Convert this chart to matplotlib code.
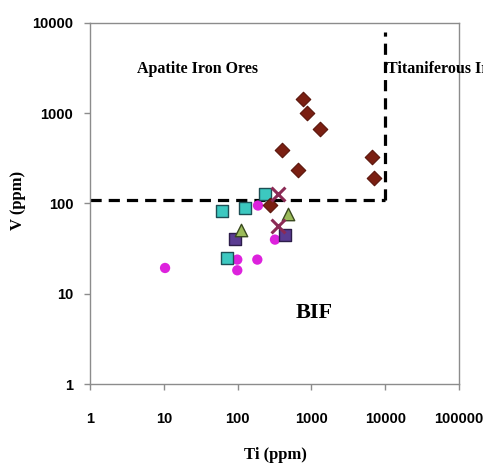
import matplotlib
matplotlib.use("Agg")
import matplotlib.pyplot as plt

# Data (Ti ppm, V ppm)
diamond_ti = [275, 769, 872, 1309, 400, 658, 6625, 7050]
diamond_v = [97, 1430, 1000, 664, 388, 233, 324, 190]

cyan_sq_ti = [61, 126, 235, 71]
cyan_sq_v = [82, 90, 129, 25]

purple_sq_ti = [92, 439]
purple_sq_v = [40, 45]

tri_ti = [110, 482]
tri_v = [51, 77]

x_ti = [353, 353]
x_v = [126, 56]

circ_ti = [10.4, 189, 99, 99, 185, 321]
circ_v = [19.3, 95, 23.9, 18.2, 23.9, 39.8]

# Field boundaries
boundary_v = 110
boundary_ti = 10000

x_ticks = [1, 10, 100, 1000, 10000, 100000]
y_ticks = [1, 10, 100, 1000, 10000]

serif = "Liberation Serif"
sans = "Liberation Sans"

fig = plt.figure(figsize=(4.83, 4.70), dpi=100)
ax = fig.add_axes([90/483, 1-384/470, (459-90)/483, (384-23)/470])
ax.set_xscale("log")
ax.set_yscale("log")
ax.set_xlim(1, 100000)
ax.set_ylim(1, 10000)

# boundary lines
ax.plot([1, boundary_ti], [boundary_v, boundary_v], color="black", lw=2.3,
        dashes=(3.5, 2.2), zorder=2)
ax.plot([boundary_ti, boundary_ti], [boundary_v, 8000], color="black", lw=2.3,
        dashes=(3.5, 2.2), zorder=2)

ax.scatter(circ_ti, circ_v, s=55, marker="o", color="#DD22DD", edgecolors="none", zorder=3)
ax.scatter(cyan_sq_ti, cyan_sq_v, s=65, marker="s", facecolor="#3CC8C0",
           edgecolors="#1d4f55", linewidths=1.0, zorder=4)
ax.scatter(purple_sq_ti, purple_sq_v, s=65, marker="s", facecolor="#5B3C92",
           edgecolors="#2d1d4a", linewidths=1.0, zorder=4)
ax.scatter(tri_ti, tri_v, s=80, marker="^", facecolor="#9BBB59",
           edgecolors="#3a4a20", linewidths=1.0, zorder=4)
ax.scatter(diamond_ti, diamond_v, s=55, marker="D", facecolor="#7A1F12",
           edgecolors="#5a150c", linewidths=0.8, zorder=5)
ax.scatter(x_ti, x_v, s=100, marker="x", color="#8B2A55", linewidths=2.2, zorder=6)

for sp in ax.spines.values():
    sp.set_color("#8c8c8c")
    sp.set_linewidth(1.0)

ax.set_xticks(x_ticks)
ax.set_xticklabels([str(t) for t in x_ticks])
ax.set_yticks(y_ticks)
ax.set_yticklabels([str(t) for t in y_ticks])
ax.minorticks_off()
ax.tick_params(axis="both", direction="out", length=4, color="#8c8c8c", width=1.0,
               labelsize=10.5)
ax.tick_params(axis="x", pad=16)
ax.tick_params(axis="y", pad=8)
for lab in ax.get_xticklabels() + ax.get_yticklabels():
    lab.set_fontfamily(sans)
    lab.set_fontweight("bold")

ax.set_xlabel("Ti (ppm)", fontfamily=serif, fontweight="bold", fontsize=12, va="center")
ax.set_ylabel("V (ppm)", fontfamily=serif, fontweight="bold", fontsize=12, va="center")
ax.xaxis.set_label_coords((275-90)/369, (384-455)/361)
ax.yaxis.set_label_coords((18-90)/369, (384-200)/361)

ax.text(4.3, 3080, "Apatite Iron Ores", fontfamily=serif, fontweight="bold",
        fontsize=11.5, va="center", ha="left")
ax.text(10600, 3080, "Titaniferous Iron Ores", fontfamily=serif, fontweight="bold",
        fontsize=11.5, va="center", ha="left", clip_on=False)
ax.text(1100, 6.15, "BIF", fontfamily=serif, fontweight="bold",
        fontsize=16, va="center", ha="center")

fig.savefig("out.png", dpi=100)
